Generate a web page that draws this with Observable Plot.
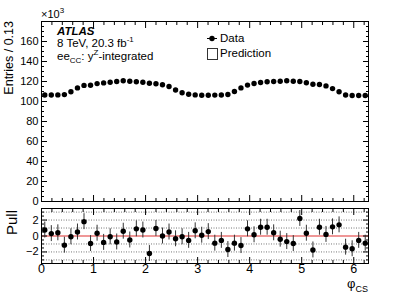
<!DOCTYPE html>
<html><head><meta charset="utf-8">
<script src="https://cdn.jsdelivr.net/npm/d3@7"></script>
<script src="https://cdn.jsdelivr.net/npm/@observablehq/plot@0.6"></script>
<style>
body{margin:0;background:#fff;}
#root{position:relative;width:409px;height:294px;font-family:"Liberation Sans",Arial,Helvetica,sans-serif;color:#000;overflow:hidden;background:#fff;}
.t{position:absolute;white-space:nowrap;line-height:1;}
#root svg{position:absolute;left:0;}
sub,sup{line-height:0;}
</style></head><body><div id="root"></div>
<script>
// ---- data ----
const nBins = 50;
// entries per bin, in units of 10^3
const entries = [106.5,106.5,106.6,106.9,109.8,113.6,116.1,116.3,117.9,118.6,
                 119.3,120.0,120.8,120.3,119.8,119.2,118.2,117.7,116.8,115.0,
                 111.5,108.8,107.2,106.6,106.2,106.3,106.4,106.5,107.0,110.0,
                 113.6,116.4,118.0,119.0,119.7,120.0,120.3,120.7,120.3,120.0,
                 118.7,117.3,117.0,115.6,112.9,109.8,106.5,106.0,106.0,106.0];
const pulls = [0.75,0.3,0.4,-1.15,-0.1,0.5,1.8,-0.95,0.35,-0.8,
               -0.1,-0.75,0.6,-0.5,0.9,0.75,-2.2,0.95,0.0,0.5,
               -0.35,-0.1,-0.55,0.65,0.1,0.55,-0.9,-0.55,-1.7,-0.9,
               -1.2,0.9,0.15,1.1,1.1,0.4,-0.4,-0.7,-0.95,2.2,
               0.35,-1.75,1.1,0.2,1.15,1.4,-1.4,-1.6,-0.55,-0.9];
const pullErr = 1.0;
const xTicks = [0,1,2,3,4,5,6];
const topYTicks = [0,20,40,60,80,100,120,140,160];
const pullYTicks = [-2,0,2];
const pullGrid = [-3,-2,-1,1,2,3];

// ---- build table ----
const binWidth = 2*Math.PI/nBins;
const data = entries.map((v,i)=>({x:(i+0.5)*binWidth, entries:v, pull:pulls[i], err:pullErr}));
const xMinor = d3.range(0, 6.3, 0.2).filter(v=>Math.abs(v-Math.round(v))>1e-6);
const topMinor = d3.range(0, 181, 5).filter(v=>v%20!==0);
const pullMinor = d3.range(-3, 3.01, 0.5).filter(v=>v%2!==0);
const FONT = '"Liberation Sans",Arial,Helvetica,sans-serif';
const root = document.getElementById('root');

function frameAxes(yMajor, yMinor){
  return [
    Plot.axisY(yMajor,{anchor:"left",tickSize:-6,tickPadding:9,fontSize:11,label:null}),
    Plot.axisY(yMinor,{anchor:"left",tickSize:-3,text:null,label:null}),
    Plot.axisY(yMajor,{anchor:"right",tickSize:-6,text:null,label:null}),
    Plot.axisY(yMinor,{anchor:"right",tickSize:-3,text:null,label:null}),
    Plot.axisX(xTicks,{anchor:"top",tickSize:-6,text:null,label:null}),
    Plot.axisX(xMinor,{anchor:"top",tickSize:-3,text:null,label:null}),
  ];
}

const topPlot = Plot.plot({
  width:409, height:205, marginLeft:41, marginRight:41, marginTop:21, marginBottom:4,
  x:{domain:[0,2*Math.PI]}, y:{domain:[0,180]},
  style:{fontFamily:FONT, color:"#000", background:"transparent", overflow:"visible"},
  marks:[
    ...frameAxes(topYTicks, topMinor),
    Plot.axisX(xTicks,{anchor:"bottom",tickSize:-6,text:null,label:null}),
    Plot.axisX(xMinor,{anchor:"bottom",tickSize:-3,text:null,label:null}),
    Plot.dot(data,{x:"x", y:"entries", r:2.7, fill:"#000", stroke:null}),
    Plot.frame({stroke:"#000"})
  ]
});
topPlot.style.top = "0px";
root.appendChild(topPlot);

const pullPlot = Plot.plot({
  width:409, height:93, marginLeft:41, marginRight:41, marginTop:7, marginBottom:31,
  x:{domain:[0,2*Math.PI]}, y:{domain:[-3.45,3.45]},
  style:{fontFamily:FONT, color:"#000", background:"transparent", overflow:"visible"},
  marks:[
    Plot.ruleY(pullGrid,{stroke:"#777", strokeDasharray:"1,1.5", strokeWidth:1}),
    Plot.ruleY([0],{stroke:"#e03030", strokeWidth:1.2}),
    ...frameAxes(pullYTicks, pullMinor),
    Plot.axisX(xTicks,{anchor:"bottom",tickSize:-6,tickPadding:7,fontSize:12.5,label:null}),
    Plot.axisX(xMinor,{anchor:"bottom",tickSize:-3,text:null,label:null}),
    Plot.ruleX(data,{x:"x", y1:d=>d.pull-d.err, y2:d=>d.pull+d.err, stroke:"#333", strokeWidth:1}),
    Plot.dot(data,{x:"x", y:"pull", r:2.7, fill:"#000", stroke:null}),
    Plot.frame({stroke:"#000"})
  ]
});
pullPlot.style.top = "201px";
root.appendChild(pullPlot);

// ---- texts ----
function addText(html, css){
  const d = document.createElement('div');
  d.className = 't';
  d.innerHTML = html;
  Object.assign(d.style, css);
  root.appendChild(d);
  return d;
}
addText('&times;10<sup style="font-size:8px">3</sup>', {left:'41px', top:'9px', fontSize:'11px'});
addText('Entries / 0.13', {left:'3px', top:'141px', width:'120px', textAlign:'right', transformOrigin:'0 0', transform:'rotate(-90deg)', fontSize:'12.5px'});
addText('Pull', {left:'4px', top:'330px', width:'120px', textAlign:'right', transformOrigin:'0 0', transform:'rotate(-90deg)', fontSize:'15px'});
addText('&phi;<sub style="font-size:9px">CS</sub>', {right:'41px', top:'277px', fontSize:'13px'});
addText('ATLAS', {left:'57px', top:'26px', fontSize:'11.5px', fontWeight:'bold', fontStyle:'italic'});
addText('8 TeV, 20.3 fb<sup style="font-size:8px">-1</sup>', {left:'57px', top:'38px', fontSize:'11.5px'});
addText('ee<sub style="font-size:8px">CC</sub>: y<sup style="font-size:8px">Z</sup>-integrated', {left:'57px', top:'51px', fontSize:'11.5px'});
// legend
addText('Data', {left:'220px', top:'33px', fontSize:'11.5px'});
addText('Prediction', {left:'220px', top:'48px', fontSize:'11.5px'});
const lg = document.createElementNS('http://www.w3.org/2000/svg','svg');
lg.setAttribute('width','409'); lg.setAttribute('height','294');
lg.style.top='0px'; lg.style.pointerEvents='none';
lg.innerHTML = '<line x1="207" x2="217" y1="38.5" y2="38.5" stroke="#000"/><circle cx="212" cy="38.5" r="2.7" fill="#000"/>'+
  '<rect x="207.5" y="48.5" width="10" height="11" fill="#fff" stroke="#333"/>';
root.appendChild(lg);
</script></body></html>
